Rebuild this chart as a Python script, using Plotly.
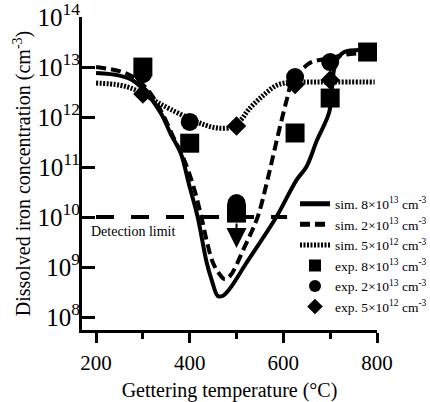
import plotly.graph_objects as go

# ---- data ----
# simulations: temperature (°C) and log10 of dissolved iron concentration (cm^-3)
sim8_T = [200, 250, 277, 308, 340, 360, 380, 400, 417, 436, 447, 460, 470, 485, 521, 585, 628, 649, 672, 698, 705, 712, 730, 780]
sim8_logC = [12.88, 12.83, 12.74, 12.48, 12.05, 11.65, 11.3, 10.6, 10.0, 9.1, 8.74, 8.42, 8.42, 8.56, 9.08, 10.0, 10.74, 11.0, 11.54, 12.1, 12.7, 13.1, 13.3, 13.34]

sim2_T = [200, 250, 280, 310, 340, 365, 390, 410, 425, 437, 449, 462, 474, 486, 517, 545, 566, 585, 606, 622, 645, 660, 700, 735, 790]
sim2_logC = [13.0, 12.92, 12.8, 12.55, 12.1, 11.6, 11.1, 10.55, 10.0, 9.5, 9.1, 8.88, 8.76, 8.82, 9.4, 10.0, 10.74, 11.5, 12.3, 12.8, 13.0, 13.1, 13.18, 13.25, 13.3]

sim5_T = [200, 250, 280, 300, 330, 360, 400, 430, 460, 490, 510, 525, 553, 587, 620, 660, 700, 795]
sim5_logC = [12.68, 12.64, 12.56, 12.47, 12.3, 12.15, 11.97, 11.85, 11.78, 11.8, 11.95, 12.14, 12.4, 12.64, 12.7, 12.7, 12.7, 12.7]

# experiments
exp8_T = [300, 400, 500, 625, 700, 780]
exp8_C = [1.0e13, 3.0e11, 1.2e10, 4.8e11, 2.4e12, 2.0e13]
exp2_T = [300, 400, 500, 625, 700]
exp2_C = [7.2e12, 8.0e11, 1.9e10, 6.3e12, 1.26e13]
exp5_T = [300, 500, 625, 700]
exp5_C = [2.9e12, 6.6e11, 4.5e12, 5.5e12]

detection_T = [200, 608]
detection_C = 1e10

sim_labels = ["sim. 8×10<sup>13</sup> cm<sup>-3</sup>",
              "sim. 2×10<sup>13</sup> cm<sup>-3</sup>",
              "sim. 5×10<sup>12</sup> cm<sup>-3</sup>"]
exp_labels = ["exp. 8×10<sup>13</sup> cm<sup>-3</sup>",
              "exp. 2×10<sup>13</sup> cm<sup>-3</sup>",
              "exp. 5×10<sup>12</sup> cm<sup>-3</sup>"]

FONT = "Liberation Serif"

fig = go.Figure()

# detection limit line
fig.add_trace(go.Scatter(x=detection_T, y=[detection_C] * len(detection_T), mode="lines",
                         line=dict(color="black", width=4, dash="18px,17px"),
                         showlegend=False, hoverinfo="skip"))

sim_sets = [(sim8_T, sim8_logC, "solid", 4), (sim2_T, sim2_logC, "10px,5px", 4),
            (sim5_T, sim5_logC, "2px,1.5px", 5)]
for i, (T, lc, dash, w) in enumerate(sim_sets):
    fig.add_trace(go.Scatter(x=T, y=[10 ** v for v in lc], mode="lines",
                             line=dict(color="black", width=w, dash=dash, shape="spline", smoothing=1),
                             name=sim_labels[i]))

exp_sets = [(exp8_T, exp8_C, "square", 19), (exp2_T, exp2_C, "circle", 18),
            (exp5_T, exp5_C, "diamond", 15)]
for i, (T, C, sym, s) in enumerate(exp_sets):
    fig.add_trace(go.Scatter(x=T, y=C, mode="markers",
                             marker=dict(symbol=sym, size=s, color="black"),
                             name=exp_labels[i]))

fig.add_annotation(x=186, y=9.72, xref="x", yref="y", text="Detection limit", showarrow=False,
                   xanchor="left", yanchor="middle", font=dict(family=FONT, size=14, color="black"))
fig.add_annotation(x=500, y=9.38, xref="x", yref="y", text="", showarrow=True,
                   ax=0, ay=-26, arrowhead=2, arrowwidth=2, arrowsize=2.0, arrowcolor="black")

fig.update_layout(
    width=430, height=402,
    margin=dict(l=82, r=53, t=17, b=72, autoexpand=False),
    paper_bgcolor="white", plot_bgcolor="white",
    font=dict(family=FONT, color="black"),
    legend=dict(x=0.722, y=0.452, xanchor="left", yanchor="top", bgcolor="rgba(0,0,0,0)",
                font=dict(family=FONT, size=13.5, color="black"), itemsizing="constant",
                itemwidth=30, tracegroupgap=0),
    xaxis=dict(range=[170, 800], tickvals=[200, 400, 600, 800], ticks="outside", ticklen=10,
               tickwidth=2.5, tickcolor="black", showline=True, linewidth=3, linecolor="black",
               showgrid=False, zeroline=False, tickfont=dict(family=FONT, size=21),
               ticklabelstandoff=2,
               minor=dict(tickvals=[300, 500, 700], ticks="outside", ticklen=6, tickwidth=2.5,
                          tickcolor="black", showgrid=False),
               title=dict(text="Gettering temperature (°C)", font=dict(family=FONT, size=20), standoff=10)),
    yaxis=dict(type="log", range=[7.74, 14.002], dtick=1, exponentformat="power", ticks="inside",
               ticklen=13, tickwidth=2.5, tickcolor="black", showline=True, linewidth=3,
               linecolor="black", showgrid=False, zeroline=False, ticklabeloverflow="allow",
               ticklabelstandoff=-5,
               tickfont=dict(family=FONT, size=20),
               title=dict(text="Dissolved iron concentration (cm<sup>-3</sup>)",
                          font=dict(family=FONT, size=20), standoff=2)),
)

# remove the page's default body margin so the 430x402 figure fills the window exactly
fig.write_html("out.html", config={"displayModeBar": False},
               post_script="document.body.style.margin='0';")
